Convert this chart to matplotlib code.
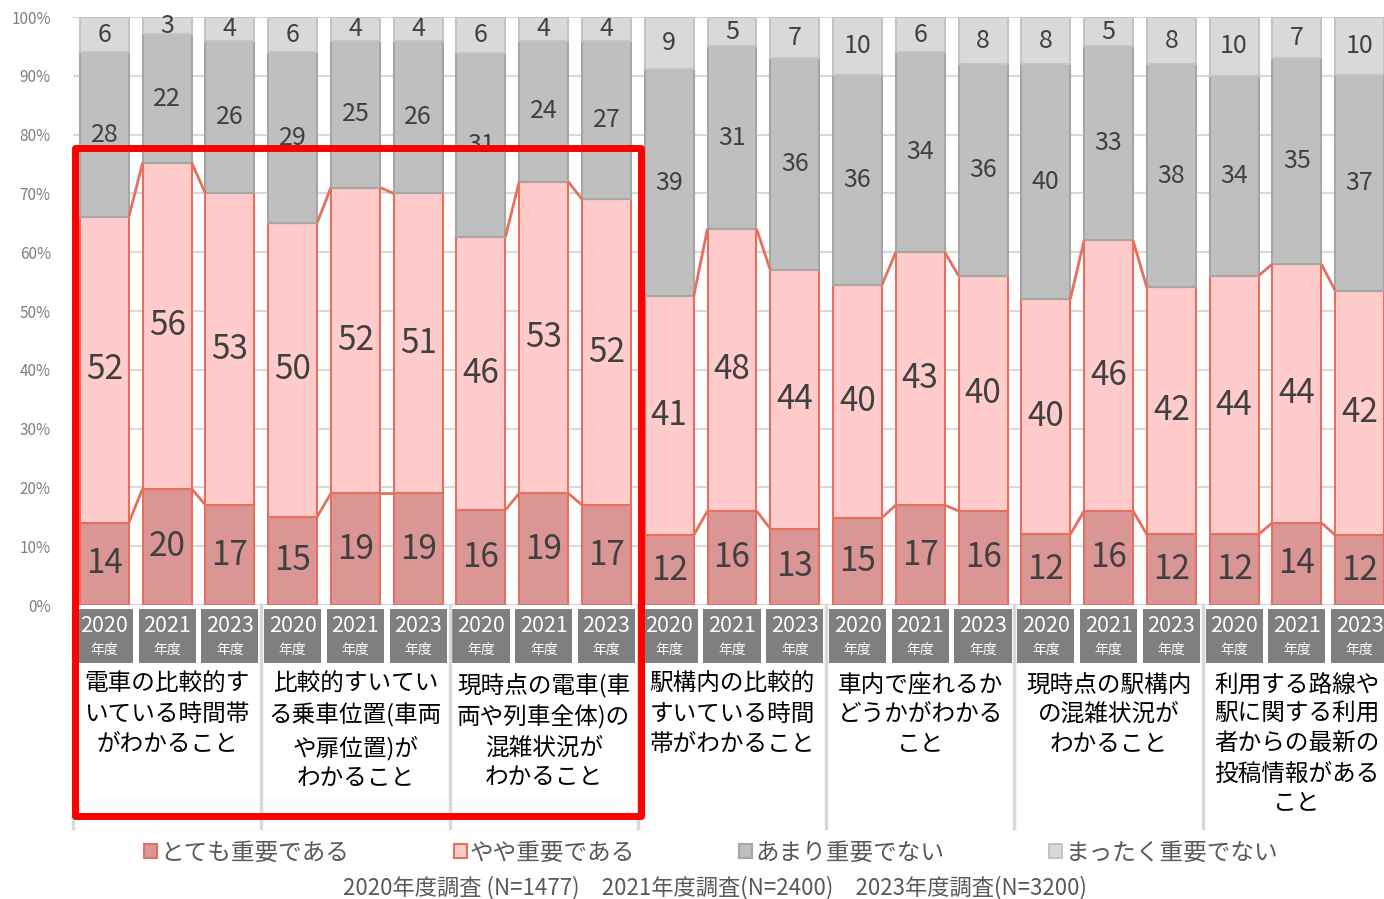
import matplotlib
matplotlib.use("Agg")
import matplotlib.pyplot as plt
from matplotlib.patches import Rectangle
import numpy as np

plt.rcParams['font.family'] = ['Noto Sans CJK JP', 'DejaVu Sans']

# 項目 (7) x 調査年度 (3)
categories = [
    "電車の比較的す\nいている時間帯\nがわかること",
    "比較的すいてい\nる乗車位置(車両\nや扉位置)が\nわかること",
    "現時点の電車(車\n両や列車全体)の\n混雑状況が\nわかること",
    "駅構内の比較的\nすいている時間\n帯がわかること",
    "車内で座れるか\nどうかがわかる\nこと",
    "現時点の駅構内\nの混雑状況が\nわかること",
    "利用する路線や\n駅に関する利用\n者からの最新の\n投稿情報がある\nこと",
]
years = ["2020", "2021", "2023"]
series_names = ["とても重要である", "やや重要である", "あまり重要でない", "まったく重要でない"]

very_important = [14, 20, 17, 15, 19, 19, 16, 19, 17, 12, 16, 13, 15, 17, 16, 12, 16, 12, 12, 14, 12]
somewhat_important = [52, 56, 53, 50, 52, 51, 46, 53, 52, 41, 48, 44, 40, 43, 40, 40, 46, 42, 44, 44, 42]
not_very_important = [28, 22, 26, 29, 25, 26, 31, 24, 27, 39, 31, 36, 36, 34, 36, 40, 33, 38, 34, 35, 37]
not_important = [6, 3, 4, 6, 4, 4, 6, 4, 4, 9, 5, 7, 10, 6, 8, 8, 5, 8, 10, 7, 10]

footnote = "2020年度調査 (N=1477)　2021年度調査(N=2400)　2023年度調査(N=3200)"

fills = ['#DA9694', '#FFCBCB', '#BFBFBF', '#D9D9D9']
edges = ['#E6705F', '#E6705F', '#A6A6A6', '#C4C4C4']
label_sizes = [24, 24, 18, 18]

vals = np.array([very_important, somewhat_important, not_very_important, not_important], dtype=float)
pct = vals / vals.sum(axis=0) * 100  # 100%積み上げ

fig = plt.figure(figsize=(13.84, 8.99), dpi=100)
ax = fig.add_axes([73 / 1384, 1 - 605 / 899, 1318 / 1384, 588 / 899])

x = np.arange(len(very_important))
w = 0.78
bottom = np.zeros(len(x))
bars = []
for k in range(4):
    b = ax.bar(x, pct[k], w, bottom=bottom, color=fills[k], edgecolor=edges[k],
               linewidth=1.5, zorder=3, label=series_names[k])
    bars.append(b)
    for xi, v, b0, p in zip(x, vals[k], bottom, pct[k]):
        ax.text(xi, b0 + p / 2, f"{int(v)}", ha='center', va='center',
                fontsize=label_sizes[k], color='#404040', zorder=5)
    bottom = bottom + pct[k]

# 系列線 (グループ内のみ)
cum = np.cumsum(pct, axis=0)
for g in range(len(categories)):
    for k in range(2):
        for j in range(2):
            i = g * 3 + j
            ax.plot([x[i] + w / 2, x[i + 1] - w / 2], [cum[k][i], cum[k][i + 1]],
                    color='#E6705F', lw=2, zorder=4, solid_capstyle='butt')

ax.set_xlim(-0.5, 20.5)
ax.set_ylim(0, 100)
ax.set_xticks([])
ax.set_yticks(range(0, 101, 10))
ax.set_yticklabels([f"{t}%" for t in range(0, 101, 10)], fontsize=11, color='#7F7F7F')
ax.tick_params(axis='y', length=0, pad=16)
ax.yaxis.grid(True, color='#D9D9D9', lw=1.5, zorder=0)
for s in ax.spines.values():
    s.set_visible(False)
ax.axhline(0, color='#D9D9D9', lw=2, zorder=2)

# 年度ボックス
for i in range(len(x)):
    ax.add_patch(Rectangle((x[i] - 0.455, -0.6), 0.91, -9.3, facecolor='#7F7F7F',
                           edgecolor='none', clip_on=False))
    ax.text(x[i], -3.5, years[i % 3], ha='center', va='center', fontsize=15.5,
            color='white', clip_on=False)
    ax.text(x[i], -7.7, "年度", ha='center', va='center', fontsize=10,
            color='white', clip_on=False)

# 項目名と区切り線
for g, name in enumerate(categories):
    ax.text(g * 3 + 1, -11.6, name, ha='center', va='top', fontsize=17,
            color='black', linespacing=1.38, clip_on=False)
for g in range(len(categories) + 1):
    ax.plot([g * 3 - 0.5, g * 3 - 0.5], [0, -38], color='#D9D9D9', lw=2.5, clip_on=False)

# 強調枠
ax.add_patch(Rectangle((-0.47, -35.9), 9.02, 113.6, fill=False, edgecolor='#FF0000',
                       lw=5, joinstyle='round', clip_on=False, zorder=10))

leg = fig.legend(handles=bars, labels=series_names, loc='center',
                 bbox_to_anchor=(711 / 1384, 1 - 853 / 899), ncol=4, frameon=False,
                 fontsize=17, handlelength=0.55, handleheight=0.55, handletextpad=0.15,
                 columnspacing=4.4)
for t in leg.get_texts():
    t.set_color('#595959')

fig.text(715 / 1384, 1 - 888 / 899, footnote, ha='center', va='center',
         fontsize=16, color='#595959')

fig.savefig("out.png", dpi=100)
